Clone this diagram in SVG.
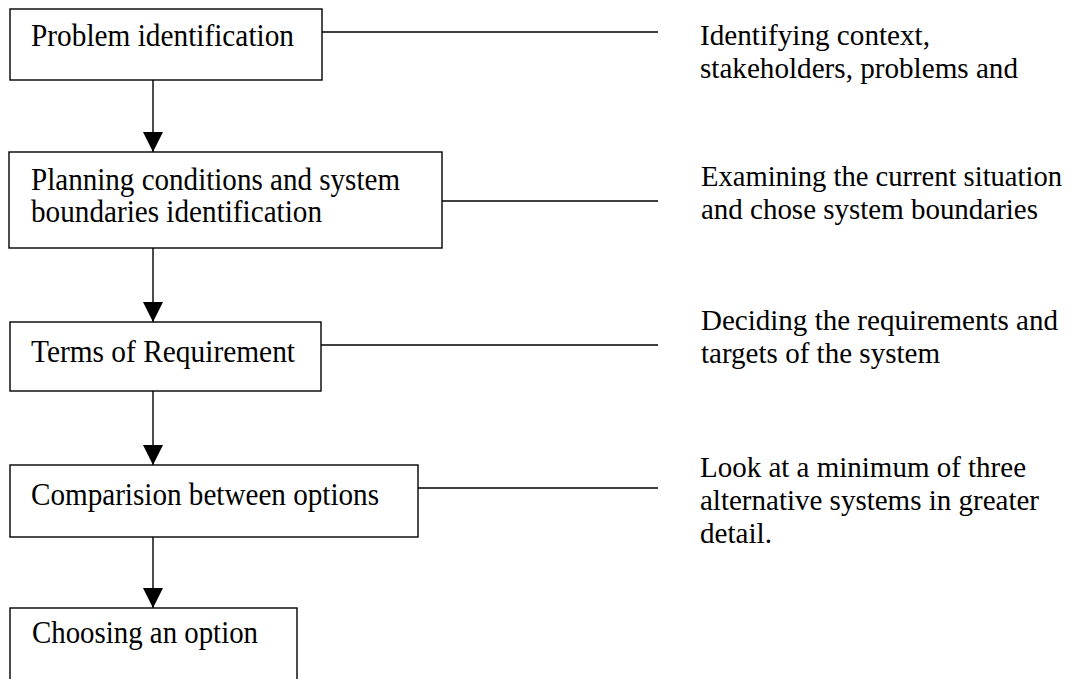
<svg xmlns="http://www.w3.org/2000/svg" width="1074" height="679" viewBox="0 0 1074 679">
  <style>
    .box { fill: #ffffff; stroke: #000000; stroke-width: 1.4; }
    .conn { stroke: #000000; stroke-width: 1.4; fill: none; }
    .t { font-family: "Liberation Serif", "Times New Roman", serif; font-size: 31px; fill: #000000; }
    .d { font-family: "Liberation Serif", "Times New Roman", serif; font-size: 29px; fill: #000000; }
  </style>
  <defs>
    <marker id="arrow" viewBox="0 0 20 20" refX="20" refY="10" markerWidth="20" markerHeight="20" markerUnits="userSpaceOnUse" orient="auto">
      <path d="M0,0 L20,10 L0,20 Z" fill="#000000"/>
    </marker>
  </defs>
  <rect width="1074" height="679" fill="#ffffff"/>

  <g id="connectors">
    <line class="conn" x1="153" y1="80" x2="153" y2="152" marker-end="url(#arrow)"/>
    <line class="conn" x1="153" y1="248" x2="153" y2="322" marker-end="url(#arrow)"/>
    <line class="conn" x1="153" y1="391" x2="153" y2="465" marker-end="url(#arrow)"/>
    <line class="conn" x1="153" y1="537" x2="153" y2="608" marker-end="url(#arrow)"/>
    <line class="conn" x1="322" y1="32" x2="658" y2="32"/>
    <line class="conn" x1="442" y1="201" x2="658" y2="201"/>
    <line class="conn" x1="321" y1="345" x2="658" y2="345"/>
    <line class="conn" x1="418" y1="488" x2="658" y2="488"/>
  </g>

  <g id="node1">
    <rect class="box" x="10" y="9" width="312" height="71"/>
    <text class="t" x="31" y="46" textLength="263" lengthAdjust="spacingAndGlyphs">Problem identification</text>
  </g>
  <g id="node2">
    <rect class="box" x="9" y="152" width="433" height="96"/>
    <text class="t" x="31" y="190" textLength="369" lengthAdjust="spacingAndGlyphs">Planning conditions and system</text>
    <text class="t" x="31" y="222" textLength="291" lengthAdjust="spacingAndGlyphs">boundaries identification</text>
  </g>
  <g id="node3">
    <rect class="box" x="10" y="322" width="311" height="69"/>
    <text class="t" x="31" y="362" textLength="264" lengthAdjust="spacingAndGlyphs">Terms of Requirement</text>
  </g>
  <g id="node4">
    <rect class="box" x="10" y="465" width="408" height="72"/>
    <text class="t" x="31" y="505" textLength="348" lengthAdjust="spacingAndGlyphs">Comparision between options</text>
  </g>
  <g id="node5">
    <rect class="box" x="10" y="608" width="287" height="90"/>
    <text class="t" x="32" y="643" textLength="226" lengthAdjust="spacingAndGlyphs">Choosing an option</text>
  </g>

  <g id="desc1">
    <text class="d" x="700" y="45" textLength="230" lengthAdjust="spacingAndGlyphs">Identifying context,</text>
    <text class="d" x="700" y="78" textLength="318" lengthAdjust="spacingAndGlyphs">stakeholders, problems and</text>
  </g>
  <g id="desc2">
    <text class="d" x="701" y="186" textLength="361" lengthAdjust="spacingAndGlyphs">Examining the current situation</text>
    <text class="d" x="701" y="219" textLength="337" lengthAdjust="spacingAndGlyphs">and chose system boundaries</text>
  </g>
  <g id="desc3">
    <text class="d" x="701" y="330" textLength="357" lengthAdjust="spacingAndGlyphs">Deciding the requirements and</text>
    <text class="d" x="701" y="363" textLength="239" lengthAdjust="spacingAndGlyphs">targets of the system</text>
  </g>
  <g id="desc4">
    <text class="d" x="700" y="477" textLength="326" lengthAdjust="spacingAndGlyphs">Look at a minimum of three</text>
    <text class="d" x="700" y="510" textLength="339" lengthAdjust="spacingAndGlyphs">alternative systems in greater</text>
    <text class="d" x="700" y="543" textLength="72" lengthAdjust="spacingAndGlyphs">detail.</text>
  </g>
</svg>
